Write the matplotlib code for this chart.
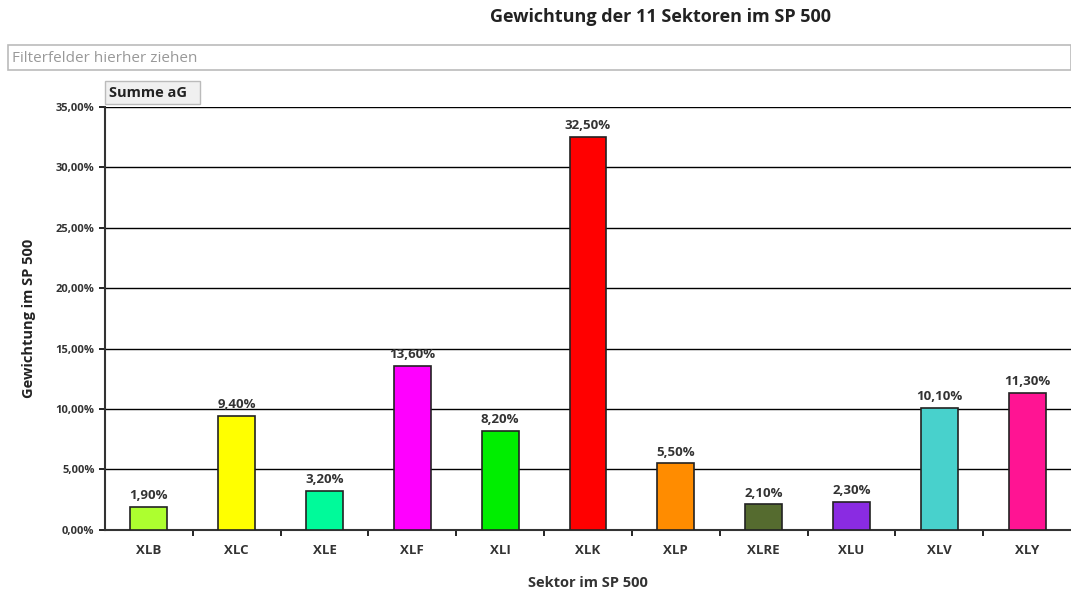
import matplotlib
import matplotlib.pyplot as plt
from matplotlib.patches import Rectangle
from matplotlib.ticker import FuncFormatter, MultipleLocator, FixedLocator
import numpy as np

matplotlib.use("Agg")

sectors = ["XLB", "XLC", "XLE", "XLF", "XLI", "XLK", "XLP", "XLRE", "XLU", "XLV", "XLY"]
weights = [0.019, 0.094, 0.032, 0.136, 0.082, 0.325, 0.055, 0.021, 0.023, 0.101, 0.113]
colors = ["#adff2f", "#ffff00", "#00fa9a", "#ff00ff", "#00ee00", "#ff0000",
          "#ff8c00", "#556b2f", "#8a2be2", "#48d1cc", "#ff1493"]

plt.rcParams["font.family"] = ["Open Sans", "DejaVu Sans"]


def de_pct(v, pos=None):
    return f"{v * 100:.2f}%".replace(".", ",")


fig = plt.figure(figsize=(10.71, 5.94), dpi=100)
ax = fig.add_axes([0.098, 0.108, 0.902, 0.712])

x = np.arange(len(sectors))
ax.bar(x, weights, width=0.42, color=colors, edgecolor="#222222", linewidth=1.2, zorder=3)
for xi, w in zip(x, weights):
    ax.text(xi, w + 0.004, de_pct(w), ha="center", va="bottom",
            fontsize=9.5, fontweight="bold", color="#333333")

ax.set_xlim(-0.5, len(sectors) - 0.5)
ax.set_ylim(0, 0.35)
ax.yaxis.set_major_locator(MultipleLocator(0.05))
ax.yaxis.set_major_formatter(FuncFormatter(de_pct))
ax.grid(axis="y", color="black", linewidth=1.0, zorder=0)
ax.set_axisbelow(True)

ax.set_xticks(x)
ax.set_xticklabels(sectors, fontsize=9.5, fontweight="bold", color="#333333")
ax.tick_params(axis="x", which="major", length=0, pad=10)
ax.xaxis.set_minor_locator(FixedLocator(np.arange(0.5, len(sectors) - 0.5, 1)))
ax.tick_params(axis="x", which="minor", length=4, width=1.2, direction="out")
ax.tick_params(axis="y", length=4, width=1.2, labelsize=8, colors="black")
for lbl in ax.get_yticklabels():
    lbl.set_fontweight("bold")
    lbl.set_color("#333333")

for side in ["top", "right"]:
    ax.spines[side].set_visible(False)
for side in ["left", "bottom"]:
    ax.spines[side].set_linewidth(1.5)
    ax.spines[side].set_color("#333333")

ax.set_xlabel("Sektor im SP 500", fontsize=10.5, fontweight="bold", labelpad=14, color="#333333")
ax.set_ylabel("Gewichtung im SP 500", fontsize=10.5, fontweight="bold", labelpad=14, color="#222222")

fig.text(0.617, 0.972, "Gewichtung der 11 Sektoren im SP 500", ha="center", va="center",
         fontsize=13, fontweight="bold", color="#222222")

# filter field bar and field button
fig.patches.append(Rectangle((8 / 1071, 1 - 70 / 594), 1063 / 1071, 25 / 594,
                             transform=fig.transFigure, facecolor="white",
                             edgecolor="#bbbbbb", linewidth=1.2))
fig.text(12 / 1071, 1 - 58 / 594, "Filterfelder hierher ziehen", ha="left", va="center",
         fontsize=11, color="#999999")
fig.patches.append(Rectangle((105 / 1071, 1 - 104 / 594), 95 / 1071, 23 / 594,
                             transform=fig.transFigure, facecolor="#f0f0f0",
                             edgecolor="#bbbbbb", linewidth=1.0))
fig.text(109 / 1071, 1 - 93 / 594, "Summe aG", ha="left", va="center",
         fontsize=10.5, fontweight="bold", color="#222222")

fig.savefig("out.png", dpi=100)
